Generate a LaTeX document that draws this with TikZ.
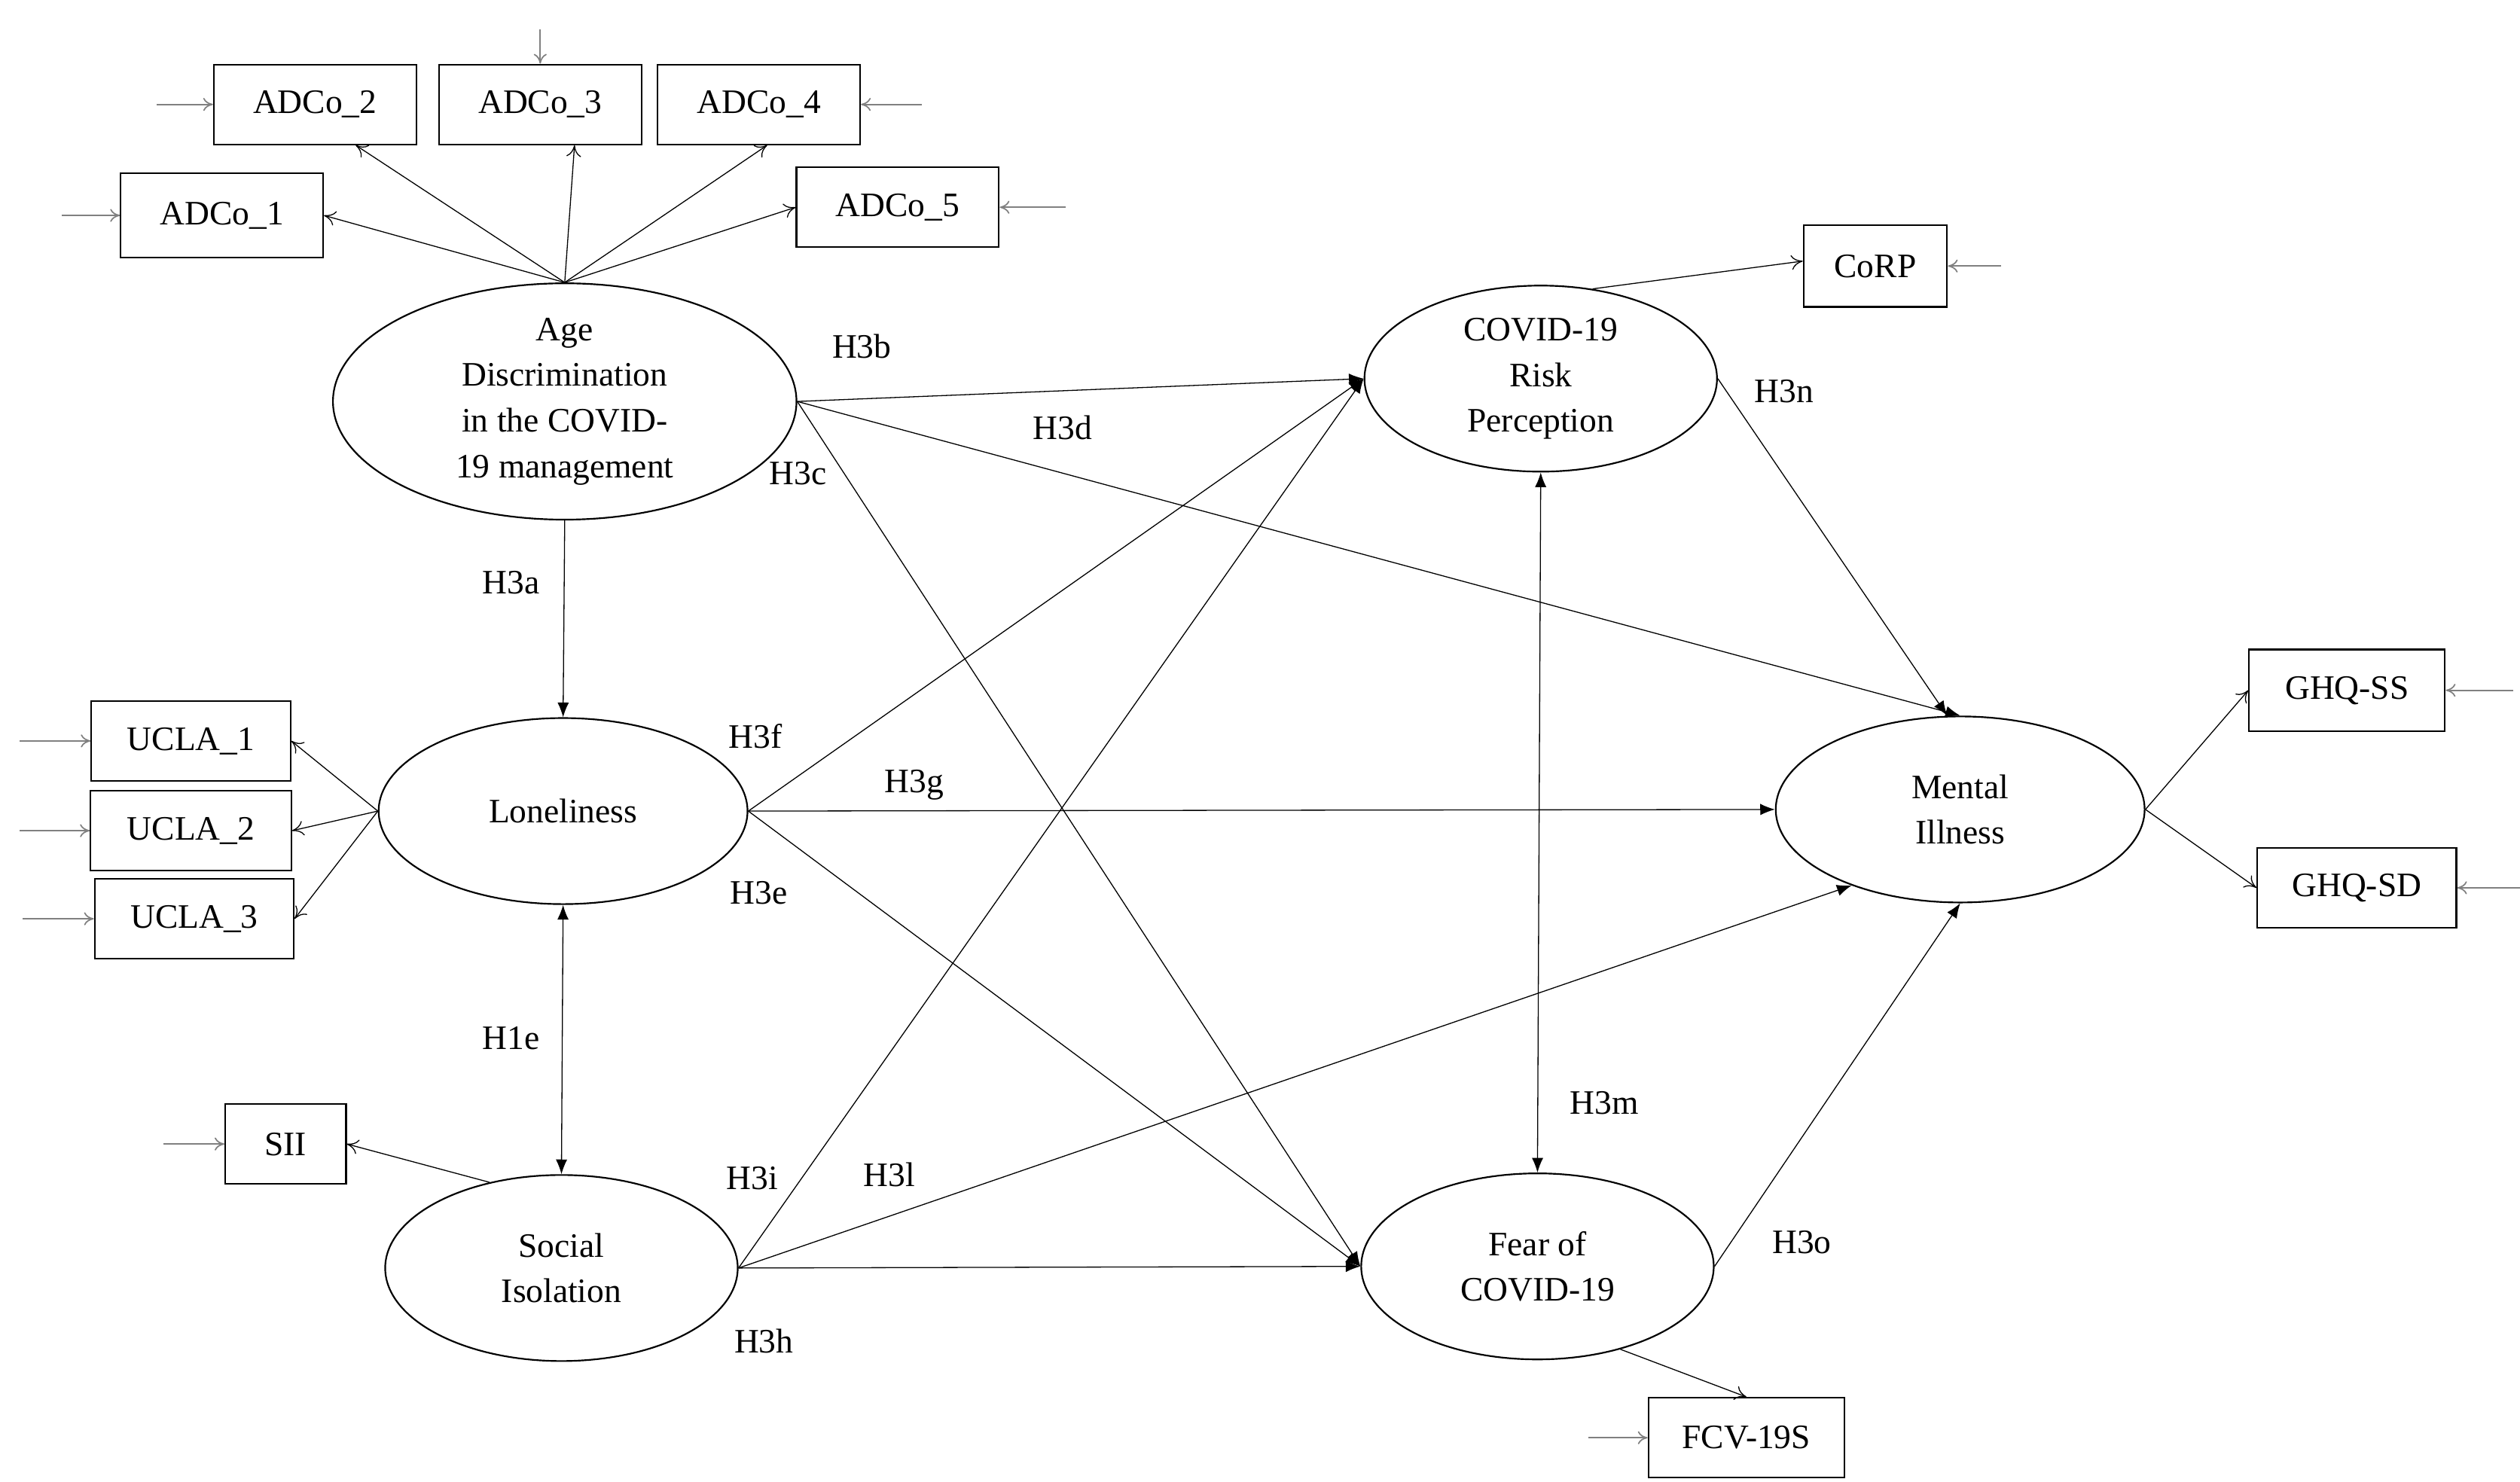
\documentclass[tikz,border=0pt]{standalone}
\usepackage{fontspec}
\setmainfont{Liberation Serif}
\usetikzlibrary{arrows.meta,shapes.geometric}
\begin{document}
\begin{tikzpicture}[x=1pt,y=-1pt,
  every node/.style={font=\fontsize{21}{28}\selectfont},
  box/.style={draw,line width=1pt,minimum width=#1,minimum height=49pt,inner sep=0pt},
  lat/.style={draw,ellipse,line width=1pt,minimum width=#1,align=center,inner sep=0pt},
  meas/.style={line width=0.6pt,-{To[length=7pt,width=9pt]}},
  path/.style={line width=0.6pt,-{Latex[length=9pt,width=7pt]}},
  dbl/.style={line width=0.6pt,{Latex[length=9pt,width=7pt]}-{Latex[length=9pt,width=7pt]}},
  err/.style={gray,line width=0.8pt,-{To[length=6pt,width=8pt]}},
  lab/.style={inner sep=0pt}]
\useasboundingbox (0,0) rectangle (1544,908);
% measurement boxes
\node[box=124pt] (a2) at (193,64) {ADCo\_2};
\node[box=124pt] (a3) at (331,64) {ADCo\_3};
\node[box=124pt] (a4) at (465,64) {ADCo\_4};
\node[box=124pt,minimum height=52pt] (a1) at (136,132) {ADCo\_1};
\node[box=124pt] (a5) at (550,127) {ADCo\_5};
\node[box=88pt,minimum height=50pt] (corp) at (1149,163) {CoRP};
\node[box=120pt,minimum height=50pt] (gss) at (1438,423) {GHQ-SS};
\node[box=122pt] (gsd) at (1444,544) {GHQ-SD};
\node[box=122pt] (u1) at (117,454) {UCLA\_1};
\node[box=123pt] (u2) at (117,509) {UCLA\_2};
\node[box=122pt] (u3) at (119,563) {UCLA\_3};
\node[box=74pt] (sii) at (175,701) {SII};
\node[box=120pt] (fcv) at (1070,881) {FCV-19S};
% latent
\node[lat=284pt,minimum height=144pt] (age) at (346,246) {Age\\Discrimination\\in the COVID-\\19 management};
\node[lat=216pt,minimum height=114pt] (risk) at (944,232) {COVID-19\\Risk\\Perception};
\node[lat=226pt,minimum height=114pt] (mi) at (1201,496) {Mental\\Illness};
\node[lat=226pt,minimum height=114pt] (lon) at (345,497) {Loneliness};
\node[lat=216pt,minimum height=114pt] (soc) at (344,777) {Social\\Isolation};
\node[lat=216pt,minimum height=114pt] (fear) at (942,776) {Fear of\\COVID-19};
% error arrows
\coordinate (e1) at (38,132); \draw[err] (e1) -- (a1.west);
\coordinate (e2) at (96,64); \draw[err] (e2) -- (a2.west);
\coordinate (e3) at (331,18); \draw[err] (e3) -- (a3.north);
\coordinate (e4) at (565,64); \draw[err] (e4) -- (a4.east);
\coordinate (e5) at (653,127); \draw[err] (e5) -- (a5.east);
\coordinate (ec) at (1226,163); \draw[err] (ec) -- (corp.east);
\coordinate (es) at (1540,423); \draw[err] (es) -- (gss.east);
\coordinate (ed) at (1544,544); \draw[err] (ed) -- (gsd.east);
\coordinate (eu1) at (12,454); \draw[err] (eu1) -- (u1.west);
\coordinate (eu2) at (12,509); \draw[err] (eu2) -- (u2.west);
\coordinate (eu3) at (14,563); \draw[err] (eu3) -- (u3.west);
\coordinate (esi) at (100,701); \draw[err] (esi) -- (sii.west);
\coordinate (ef) at (973,881); \draw[err] (ef) -- (fcv.west);
% measurement arrows
\draw[meas] (age.north) -- (a1.east);
\draw[meas] (age.north) -- ([xshift=25pt]a2.south);
\draw[meas] (age.north) -- ([xshift=21pt]a3.south);
\draw[meas] (age.north) -- ([xshift=5pt]a4.south);
\draw[meas] (age.north) -- (a5.west);
\draw[meas] (risk.60) -- ([yshift=3pt]corp.west);
\draw[meas] (mi.east) -- (gss.west);
\draw[meas] (mi.east) -- (gsd.west);
\draw[meas] (lon.west) -- (u1.east);
\draw[meas] (lon.west) -- (u2.east);
\draw[meas] (lon.west) -- (u3.east);
\draw[meas] (soc.130) -- (sii.east);
\draw[meas] (fear.-45) -- (fcv.north);
% structural
\draw[path] (age.south) -- (lon.north);
\draw[path] (age.east) -- (risk.west);
\draw[path] (age.east) -- (mi.north);
\draw[path] (age.east) -- (fear.west);
\draw[path] (lon.east) -- (risk.west);
\draw[path] (lon.east) -- (mi.west);
\draw[path] (lon.east) -- (fear.west);
\draw[path] (soc.east) -- (risk.west);
\draw[path] (soc.east) -- (mi.-145);
\draw[path] (soc.east) -- (fear.west);
\draw[path] (risk.east) -- ([xshift=-8pt]mi.north);
\draw[path] (fear.east) -- (mi.south);
\draw[dbl] (risk.south) -- (fear.north);
\draw[dbl] (lon.south) -- (soc.north);
% labels
\node[lab] (l1) at (528,212) {H3b};
\node[lab] (l2) at (651,262) {H3d};
\node[lab] (l3) at (489,290) {H3c};
\node[lab] (l4) at (313,357) {H3a};
\node[lab] (l5) at (463,451) {H3f};
\node[lab] (l6) at (560,481) {H3g};
\node[lab] (l7) at (465,547) {H3e};
\node[lab] (l8) at (313,636) {H1e};
\node[lab] (l9) at (461,722) {H3i};
\node[lab] (l10) at (545,720) {H3l};
\node[lab] (l11) at (468,822) {H3h};
\node[lab] (l12) at (1093,240) {H3n};
\node[lab] (l13) at (983,676) {H3m};
\node[lab] (l14) at (1104,761) {H3o};
\end{tikzpicture}
\end{document}
